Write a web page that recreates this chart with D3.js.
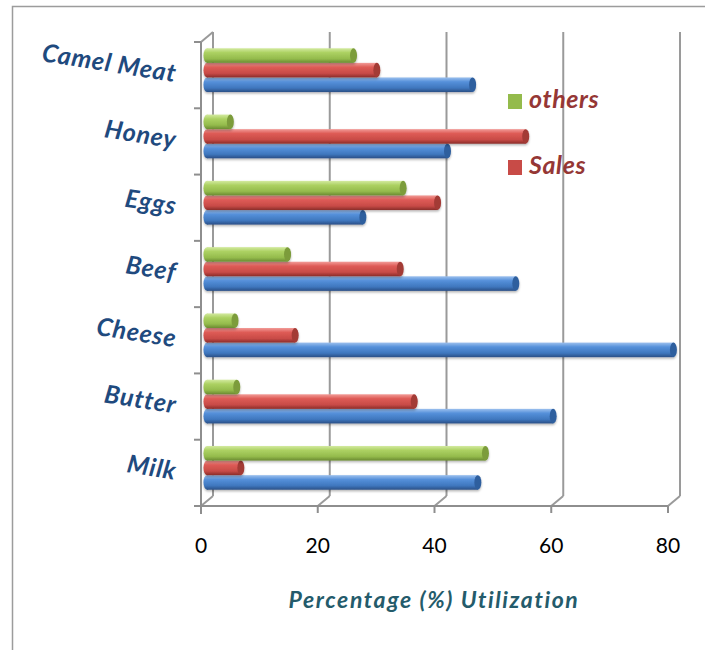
<!DOCTYPE html>
<html>
<head>
<meta charset="utf-8">
<script src="https://cdn.jsdelivr.net/npm/d3@7"></script>
<style>
  html, body { margin: 0; padding: 0; background: #fff; }
  svg { display: block; }
</style>
</head>
<body>
<svg id="chart" width="705" height="650"></svg>
<script>
// Product utilisation shares, bottom-to-top category order
const categories = ["Milk", "Butter", "Cheese", "Beef", "Eggs", "Honey", "Camel Meat"];
const seriesNames = ["Home use", "Sales", "others"];
const homeUse = [46.4, 59.3, 79.9, 52.9, 26.7, 41.2, 45.5];
const sales   = [5.8, 35.5, 15.1, 33.1, 39.5, 54.6, 29.1];
const others  = [47.7, 5.1, 4.8, 13.8, 33.6, 4.0, 25.1];
const xTicks = [0, 20, 40, 60, 80];
const legendItems = ["others", "Sales"];
const axisTitle = "Percentage (%) Utilization";

const seriesValues = [homeUse, sales, others];
const palette = {
  "Home use": { stops: ["#9cc0ee", "#5590da", "#3f77be", "#2a4f86"], cap: "#2f5f9e" },
  "Sales":    { stops: ["#f29c98", "#de5b56", "#c84b47", "#8a2c29"], cap: "#a33a36" },
  "others":   { stops: ["#d3eaa0", "#acd162", "#94bb4c", "#6a8a31"], cap: "#7b9c3b" }
};

const svg = d3.select("#chart");
const labelFont = "Lato, 'Open Sans', sans-serif";

// frame around the chart area
svg.append("path")
  .attr("d", "M12.5,650 V6.5 H705")
  .attr("fill", "none").attr("stroke", "#9c9c9c").attr("stroke-width", 1.5);

// 3-D depth offset between the front plane and the back wall
const depth = { dx: 12, dy: -10 };

const xFront = d3.scaleLinear().domain([0, 80]).range([201, 668]);
const xBar = d3.scaleLinear().domain([0, 80]).range([201 + depth.dx / 2, 668 + depth.dx / 2]);

// categories top-to-bottom on screen
const yFront = d3.scaleBand().domain(categories.slice().reverse()).range([42, 506]);
const yBar = d3.scaleBand().domain(categories.slice().reverse())
  .range([42 + depth.dy / 2, 506 + depth.dy / 2])
  .paddingInner(0.34).paddingOuter(0.17);
// within a group: last series drawn on top
const ySub = d3.scaleBand().domain(seriesNames.slice().reverse()).range([0, yBar.bandwidth()]);

const floorY = yFront.range()[1];
const topY = yFront.range()[0];

// back wall gridlines
const grid = svg.append("g").attr("stroke", "#9a9a9a").attr("stroke-width", 2).attr("fill", "none");
grid.selectAll("line.v").data(xTicks).join("line")
  .attr("class", "v")
  .attr("x1", d => xFront(d) + depth.dx).attr("x2", d => xFront(d) + depth.dx)
  .attr("y1", topY + depth.dy).attr("y2", floorY + depth.dy);
grid.selectAll("line.d").data(xTicks).join("line")
  .attr("class", "d")
  .attr("x1", d => xFront(d)).attr("x2", d => xFront(d) + depth.dx)
  .attr("y1", floorY).attr("y2", floorY + depth.dy);
grid.append("line")
  .attr("x1", xFront(0)).attr("x2", xFront(0) + depth.dx)
  .attr("y1", topY).attr("y2", topY + depth.dy);

// gradients for cylinder shading
const defs = svg.append("defs");
seriesNames.forEach((name, i) => {
  const g = defs.append("linearGradient")
    .attr("id", "grad" + i).attr("x1", 0).attr("y1", 0).attr("x2", 0).attr("y2", 1);
  const offs = [0, 0.3, 0.72, 1];
  palette[name].stops.forEach((c, k) => g.append("stop").attr("offset", offs[k]).attr("stop-color", c));
});
const shadow = defs.append("filter").attr("id", "barShadow")
  .attr("x", "-5%").attr("y", "-20%").attr("width", "110%").attr("height", "160%");
shadow.append("feDropShadow").attr("dx", 0).attr("dy", 1.5).attr("stdDeviation", 1)
  .attr("flood-color", "#000").attr("flood-opacity", 0.3);

// bars
const rows = [];
categories.forEach((cat, ci) => {
  seriesNames.forEach((name, si) => rows.push({ cat, name, si, value: seriesValues[si][ci] }));
});
const capR = 3.5;
const bars = svg.append("g").selectAll("g.bar").data(rows).join("g")
  .attr("class", "bar")
  .attr("filter", "url(#barShadow)")
  .attr("transform", d => `translate(0,${yBar(d.cat) + ySub(d.name)})`);
const h = ySub.bandwidth();
bars.append("ellipse")
  .attr("cx", xBar(0)).attr("cy", h / 2).attr("rx", capR).attr("ry", h / 2)
  .attr("fill", d => `url(#grad${d.si})`);
bars.append("rect")
  .attr("x", xBar(0)).attr("y", 0)
  .attr("width", d => xBar(d.value) - xBar(0)).attr("height", h)
  .attr("fill", d => `url(#grad${d.si})`);
bars.append("ellipse")
  .attr("cx", d => xBar(d.value)).attr("cy", h / 2).attr("rx", capR).attr("ry", h / 2)
  .attr("fill", d => palette[d.name].cap);

// front axes
const axes = svg.append("g").attr("stroke", "#8e8e8e").attr("stroke-width", 2).attr("fill", "none");
axes.append("line").attr("x1", xFront(0)).attr("x2", xFront(0)).attr("y1", topY).attr("y2", floorY + 8);
axes.append("line").attr("x1", xFront(0) - 7).attr("x2", xFront(80)).attr("y1", floorY).attr("y2", floorY);
axes.selectAll("line.xt").data(xTicks).join("line")
  .attr("class", "xt")
  .attr("x1", d => xFront(d)).attr("x2", d => xFront(d))
  .attr("y1", floorY).attr("y2", floorY + 7);
const bandEdges = yFront.domain().map(c => yFront(c));
axes.selectAll("line.yt").data(bandEdges).join("line")
  .attr("class", "yt")
  .attr("x1", xFront(0) - 7).attr("x2", xFront(0))
  .attr("y1", d => d).attr("y2", d => d);

// tick labels
svg.append("g").selectAll("text").data(xTicks).join("text")
  .attr("x", d => xFront(d)).attr("y", floorY + 47)
  .attr("text-anchor", "middle")
  .attr("font-family", labelFont).attr("font-size", 21).attr("fill", "#000")
  .text(d => d);

// category labels, tilted
svg.append("g").selectAll("text").data(categories).join("text")
  .attr("transform", d => `translate(175,${yFront(d) + yFront.bandwidth() / 2 + 7}) rotate(9)`)
  .attr("text-anchor", "end")
  .attr("font-family", labelFont).attr("font-weight", 700).attr("font-style", "italic")
  .attr("font-size", 25).attr("letter-spacing", 0.8).attr("fill", "#1f4a7e")
  .text(d => d);

// axis title
svg.append("text")
  .attr("x", 434).attr("y", 608).attr("text-anchor", "middle")
  .attr("font-family", labelFont).attr("font-weight", 700).attr("font-style", "italic")
  .attr("font-size", 23).attr("letter-spacing", 1.6).attr("fill", "#245b6b")
  .text(axisTitle);

// legend
const legend = svg.append("g").selectAll("g").data(legendItems).join("g")
  .attr("transform", (d, i) => `translate(508,${94 + i * 66})`);
legend.append("rect").attr("width", 14).attr("height", 15)
  .attr("fill", d => palette[d].stops[2]);
legend.append("text")
  .attr("x", 21).attr("y", 14)
  .attr("font-family", labelFont).attr("font-weight", 700).attr("font-style", "italic")
  .attr("font-size", 25).attr("letter-spacing", 0.6).attr("fill", "#953735")
  .text(d => d);
</script>
</body>
</html>
